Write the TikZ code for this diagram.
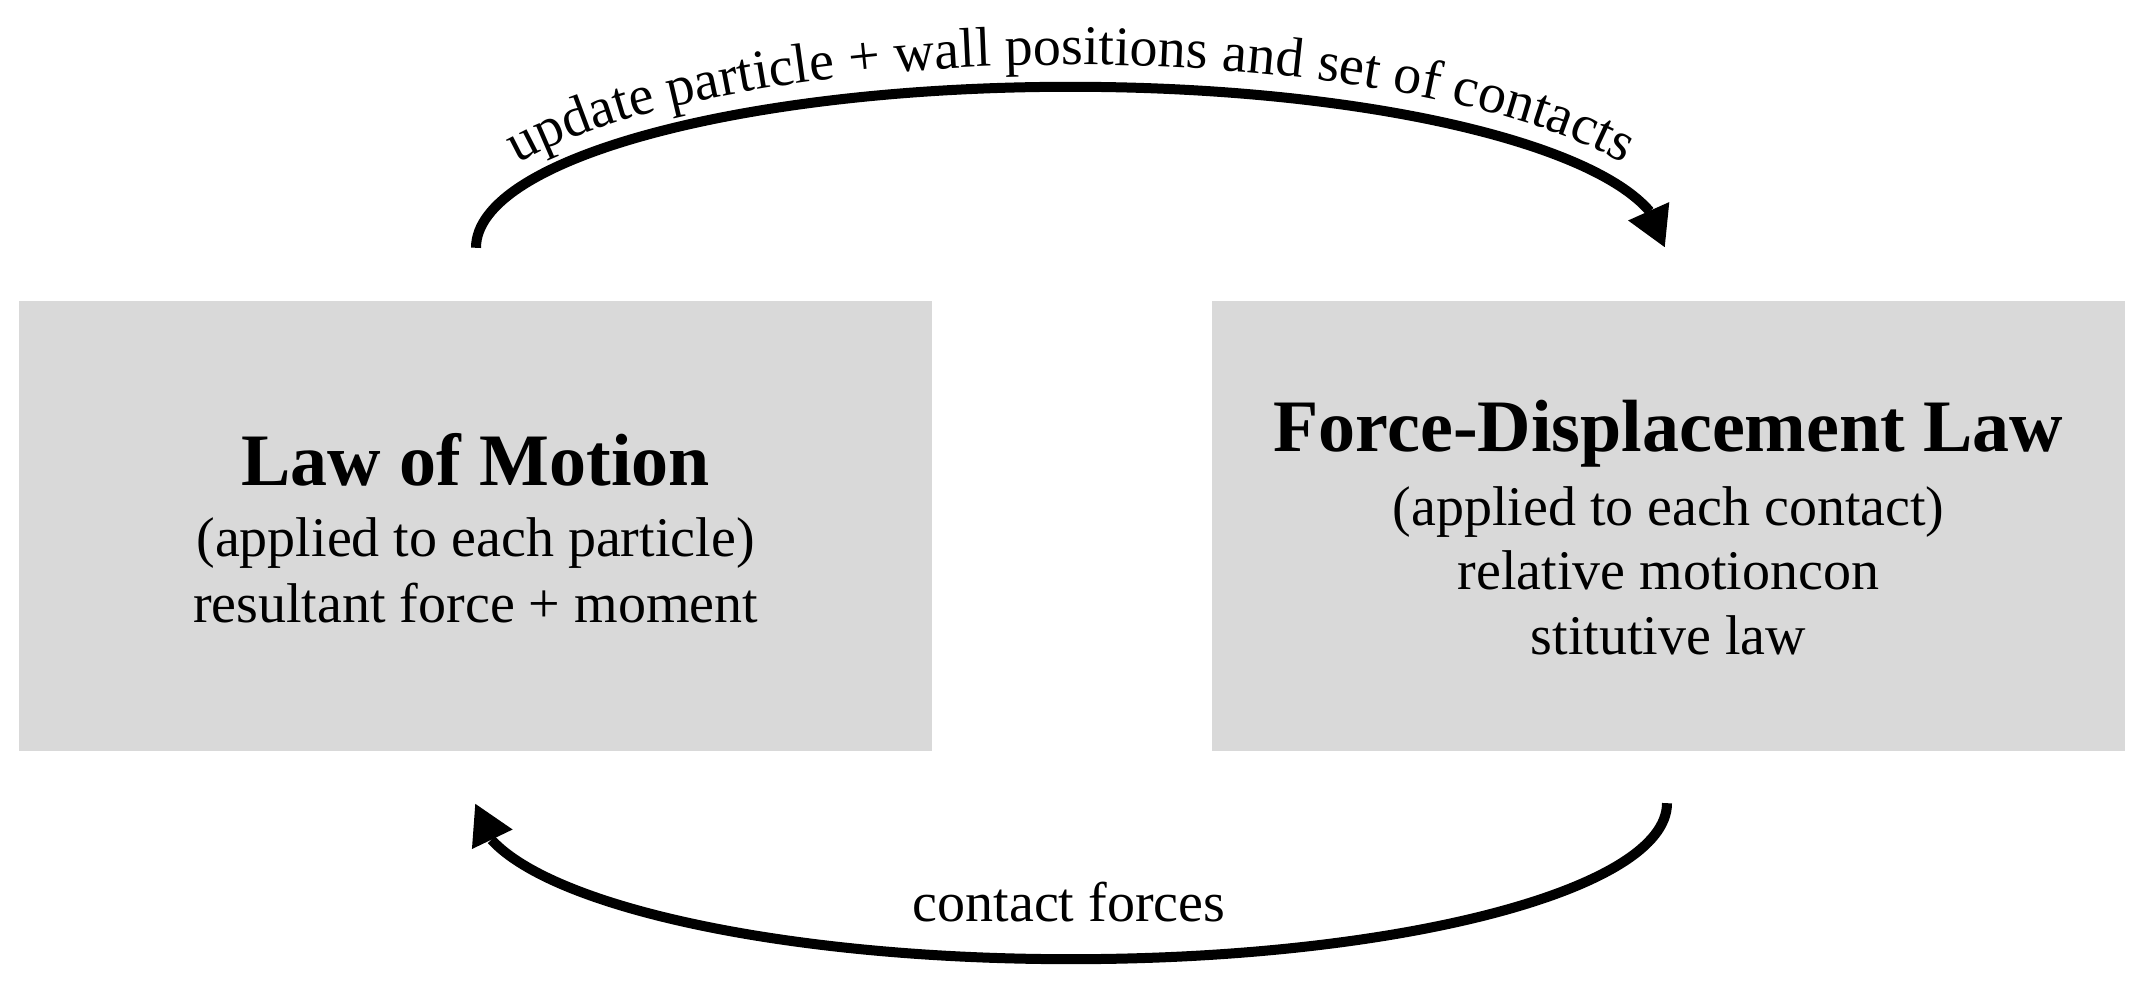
\documentclass[tikz,border=0pt]{standalone}
\usepackage{fontspec}
\setmainfont{Liberation Serif}
\usetikzlibrary{arrows.meta,bending,decorations.text,calc}
\definecolor{boxgray}{RGB}{217,217,217}
\begin{document}
\begin{tikzpicture}[x=1pt,y=1pt,
  box/.style={fill=boxgray, draw=none, minimum width=913pt, minimum height=450pt, inner sep=0pt},
  titletext/.style={font=\fontsize{74}{80}\selectfont\bfseries, anchor=base, inner sep=0pt},
  bodytext/.style={font=\fontsize{56}{64}\selectfont, anchor=base, inner sep=0pt},
  arr/.style={line width=10pt, -{Triangle[length=40pt,width=42pt,flex]}},
]
\useasboundingbox (0,0) rectangle (2148,990);
% boxes
\node[box] (lbox) at (475.5,464) {};
\node[box] (rbox) at (1668.5,464) {};
% left box text
\node[titletext] (ltitle) at (475.5,504) {Law of Motion};
\node[bodytext] (lline1) at (475.5,433) {(applied to each particle)};
\node[bodytext] (lline2) at (475.5,367) {resultant force + moment};
% right box text
\node[titletext] (rtitle) at (1668.5,538) {Force-Displacement Law};
\node[bodytext] (rline1) at (1668.5,464) {(applied to each contact)};
\node[bodytext] (rline2) at (1668.5,400) {relative motioncon};
\node[bodytext] (rline3) at (1668.5,335) {stitutive law};
% connectors
\coordinate (ts) at ($(lbox.north)+(0.5,53)$);
\coordinate (bs) at ($(rbox.south)+(-1.5,-52)$);
\draw[arr] (ts) arc[start angle=180, end angle=0, x radius=594.5, y radius=161];
\draw[arr] (bs) arc[start angle=0, end angle=-180, x radius=596, y radius=156];
% curved label on top arrow
\coordinate (tp) at ($(ts)+(-28,0)$);
\path[decorate, decoration={text along path, text align=center,
  text format delimiters={|}{|},
  text={|\fontsize{56}{64}\selectfont|update particle + wall positions and set of contacts}}]
  (tp) arc[start angle=180, end angle=0, x radius=622.5, y radius=183];
% bottom label
\node[bodytext] (cf) at (1069,68) {contact forces};
\end{tikzpicture}
\end{document}
